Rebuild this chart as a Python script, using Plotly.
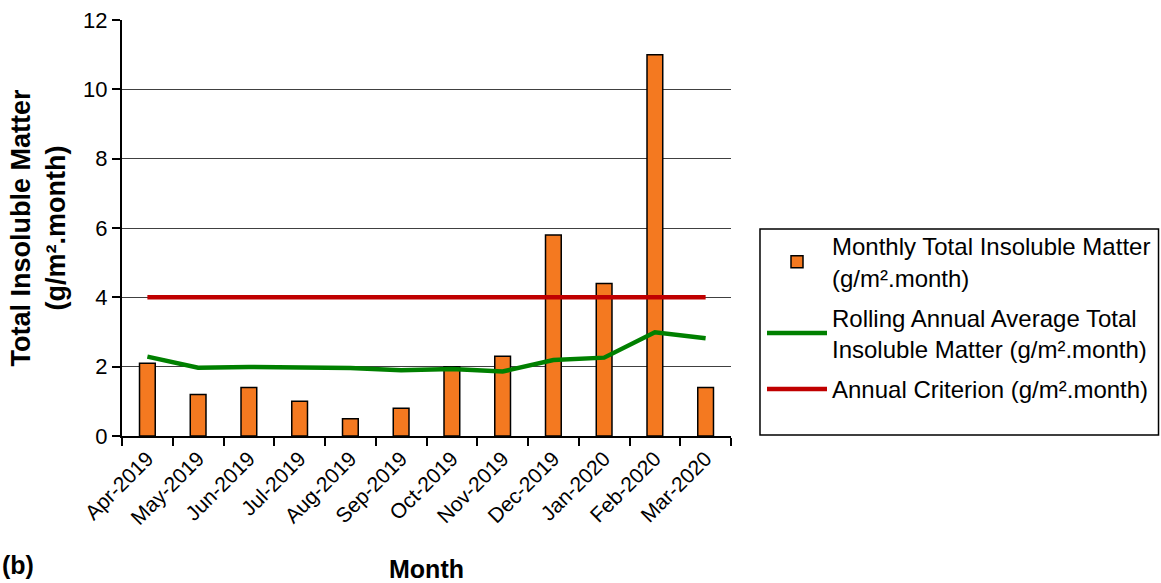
import plotly.graph_objects as go

months = ["Apr-2019", "May-2019", "Jun-2019", "Jul-2019", "Aug-2019", "Sep-2019",
          "Oct-2019", "Nov-2019", "Dec-2019", "Jan-2020", "Feb-2020", "Mar-2020"]
monthly = [2.1, 1.2, 1.4, 1.0, 0.5, 0.8, 2.0, 2.3, 5.8, 4.4, 11.0, 1.4]
rolling = [2.29, 1.97, 1.99, 1.99, 1.96, 1.90, 1.93, 1.86, 2.19, 2.26, 2.99, 2.82]
criterion = [4] * 12
y_ticks = [0, 2, 4, 6, 8, 10, 12]

FONT = "Liberation Sans, Arial, sans-serif"

fig = go.Figure()
fig.add_trace(go.Bar(
    x=months, y=monthly, name="Monthly Total Insoluble Matter<br>(g/m².month)",
    marker=dict(color="#F47920", line=dict(color="black", width=1.5)),
    width=0.31, legendgroup="a",
))
fig.add_trace(go.Scatter(
    x=months, y=rolling, mode="lines",
    name="Rolling Annual Average Total<br>Insoluble Matter (g/m².month)",
    line=dict(color="#008000", width=4.5), legendgroup="b",
))
fig.add_trace(go.Scatter(
    x=months, y=criterion, mode="lines",
    name="Annual Criterion (g/m².month)",
    line=dict(color="#C00000", width=4.5), legendgroup="c",
))

fig.update_layout(
    width=1161, height=583,
    margin=dict(l=122, r=430, t=20, b=147),
    paper_bgcolor="white", plot_bgcolor="white",
    font=dict(family=FONT, size=21, color="black"),
    showlegend=True,
    legend=dict(
        xref="container", yref="container",
        x=762 / 1161, y=1 - 224 / 583, xanchor="left", yanchor="top",
        borderwidth=0, bgcolor="rgba(0,0,0,0)",
        font=dict(size=24, family=FONT),
        tracegroupgap=6, itemwidth=60,
    ),
    bargap=0.5,
)
fig.add_shape(
    type="rect", xref="paper", yref="paper",
    x0=1.0476, x1=1.702, y0=0.0024, y1=0.4976,
    line=dict(color="black", width=1.5), fillcolor="rgba(0,0,0,0)",
)
fig.update_xaxes(
    type="category", tickangle=-45, tickson="boundaries",
    ticks="outside", ticklen=8, tickcolor="black", tickwidth=2,
    showline=True, linecolor="black", linewidth=2,
    showgrid=False, automargin=False,
    tickfont=dict(size=21, family=FONT),
    title=dict(text="<b>Month</b>", font=dict(size=25, family=FONT), standoff=36),
)
fig.update_yaxes(
    range=[0, 12], tickvals=y_ticks,
    ticks="outside", ticklen=8, tickcolor="black", tickwidth=2,
    showline=True, linecolor="black", linewidth=2,
    showgrid=True, gridcolor="#404040", gridwidth=1.2,
    zeroline=False, automargin=False,
    tickfont=dict(size=22, family=FONT),
    title=dict(text="<b>Total Insoluble Matter<br>(g/m².month)</b>",
               font=dict(size=27, family=FONT), standoff=10),
)
fig.add_annotation(
    text="<b>(b)</b>", xref="paper", yref="paper",
    x=-0.2, y=-0.31, xanchor="left", yanchor="middle",
    showarrow=False, font=dict(size=25, family=FONT),
)
fig.write_html("out.html", config={"displayModeBar": False},
               post_script="document.body.style.margin='0px';")
